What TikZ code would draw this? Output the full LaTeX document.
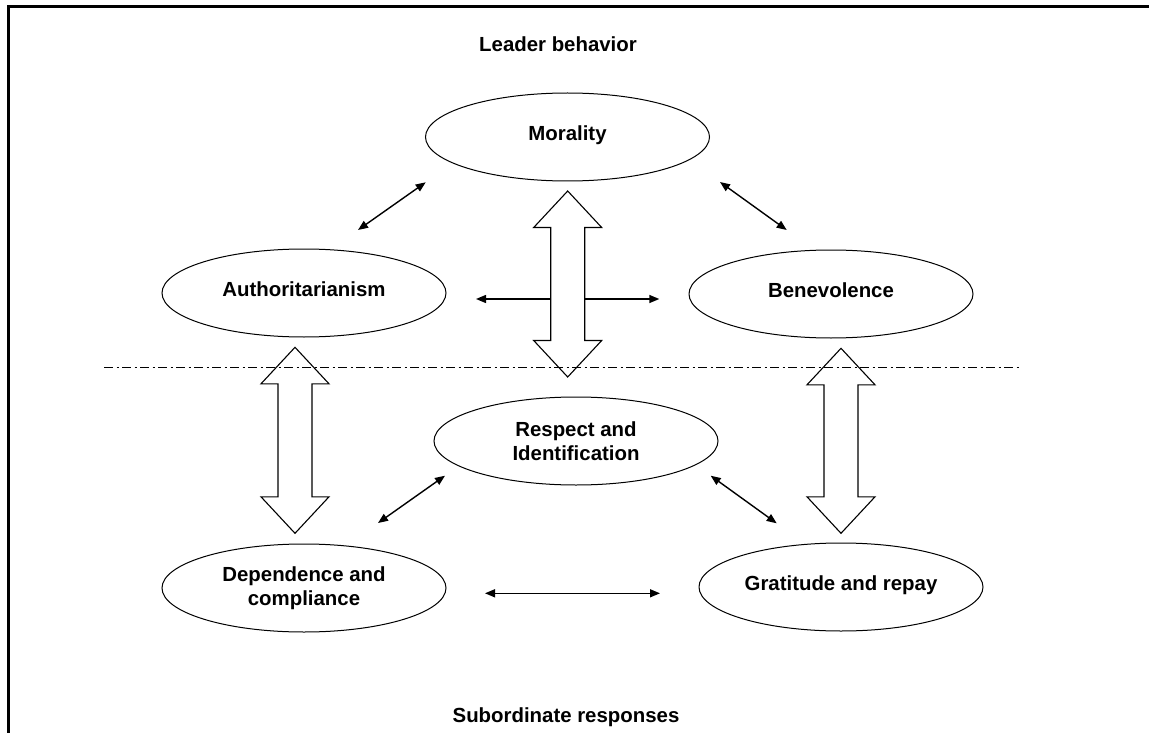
\documentclass[tikz,border=0pt]{standalone}
\usepackage{fontspec}
\setmainfont{Liberation Sans}
\usetikzlibrary{shapes.geometric,arrows.meta}
\newcommand{\dblblock}[3]{%
  \draw[blockarrow] (#1,#2) -- ({#1+34},{#2+36.5}) -- ({#1+17},{#2+36.5})
    -- ({#1+17},{#3-36.5}) -- ({#1+34},{#3-36.5}) -- (#1,#3)
    -- ({#1-34},{#3-36.5}) -- ({#1-17},{#3-36.5}) -- ({#1-17},{#2+36.5})
    -- ({#1-34},{#2+36.5}) -- cycle;}
\begin{document}
\begin{tikzpicture}[x=1pt,y=-1pt,
  every node/.style={font=\fontsize{20.4}{23.5}\selectfont\bfseries},
  oval/.style={ellipse,draw,line width=1pt,minimum width=284pt,minimum height=88pt,inner sep=0pt,align=center},
  one/.style={text height=15pt,text depth=8pt},
  link/.style={line width=1.4pt,{Triangle[length=10pt,width=8pt]}-{Triangle[length=10pt,width=8pt]}},
  ray/.style={line width=1.4pt,-{Triangle[length=10pt,width=8pt]}},
  blockarrow/.style={draw,line width=1.1pt,line join=miter},
  divider/.style={line width=1pt,dash pattern=on 9pt off 3.5pt on 2pt off 3.5pt},
  frame/.style={line width=3pt,line join=miter}
]
\useasboundingbox (0,0) rectangle (1149,733);
\draw[frame] (8,733) -- (8,7) -- (1149,7);

% labels
\node[anchor=base] (lead) at (558,51.7) {Leader behavior};
\node[anchor=base] (sub) at (566,722) {Subordinate responses};

% ellipses
\node[oval,one] (mor) at (567.5,137) {Morality};
\node[oval,one] (aut) at (304,293) {Authoritarianism};
\node[oval,one] (ben) at (831,294) {Benevolence};
\node[oval] (res) at (576,441) {Respect and\\Identification};
\node[oval] (dep) at (304,588) {Dependence and\\compliance};
\node[oval,one] (gra) at (841,587) {Gratitude and repay};

% divider
\draw[divider] (104,367.5) -- (1020,367.5);

% block arrows
\dblblock{567.7}{191}{377}
\dblblock{295}{347.3}{533.3}
\dblblock{841}{348.3}{533.3}

% small arrows
\coordinate (a1) at (425.7,182.3); \coordinate (a2) at (358,230);
\coordinate (b1) at (720,182);     \coordinate (b2) at (786.7,230);
\coordinate (c1) at (551,299);     \coordinate (c2) at (476,299);
\coordinate (d1) at (584.7,299);   \coordinate (d2) at (659.3,299);
\coordinate (e1) at (445,475.7);   \coordinate (e2) at (378,523);
\coordinate (f1) at (710.7,475.7); \coordinate (f2) at (776.7,523.3);
\coordinate (g1) at (485,593.3);   \coordinate (g2) at (660,593.3);
\draw[link] (a1) -- (a2);
\draw[link] (b1) -- (b2);
\draw[ray] (c1) -- (c2);
\draw[ray] (d1) -- (d2);
\draw[link] (e1) -- (e2);
\draw[link] (f1) -- (f2);
\draw[link] (g1) -- (g2);
\end{tikzpicture}
\end{document}
